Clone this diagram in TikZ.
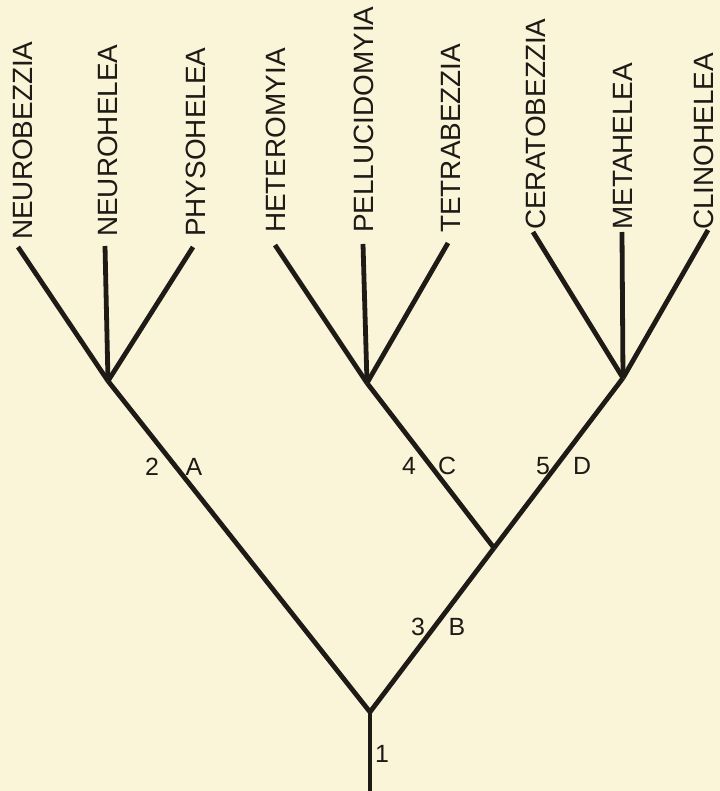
\documentclass[tikz,border=0pt]{standalone}
\usepackage{fontspec}
\setmainfont{Liberation Sans}
\definecolor{paper}{HTML}{FAF4D8}
\definecolor{ink}{HTML}{1E1A16}
\begin{document}
\begin{tikzpicture}[x=1bp,y=-1bp,
  branch/.style={draw=ink,line width=4.8bp,line cap=butt},
  taxon/.style={rotate=90,anchor=base west,inner sep=0pt,text=ink,font=\fontsize{28}{30}\selectfont},
  tag/.style={inner sep=0pt,text=ink,font=\fontsize{25}{27}\selectfont}]
\fill[paper] (0,0) rectangle (720,791);
\useasboundingbox (0,0) rectangle (720,791);
% junctions
\coordinate (root) at (370,712);
\coordinate (base) at (370,800);
\coordinate (nA) at (108,381);
\coordinate (nB) at (494,548);
\coordinate (nC) at (367,383);
\coordinate (nD) at (623,378);
% leaf tips
\coordinate (t1) at (18,247);
\coordinate (t2) at (105,246);
\coordinate (t3) at (193,247);
\coordinate (t4) at (275,245);
\coordinate (t5) at (363,244);
\coordinate (t6) at (448,243);
\coordinate (t7) at (533,232);
\coordinate (t8) at (622,232);
\coordinate (t9) at (708,230);
% taxa
\node[taxon] (l1) at (32,240) {NEUROBEZZIA};
\node[taxon] (l2) at (117,237) {NEUROHELEA};
\node[taxon] (l3) at (205,237) {PHYSOHELEA};
\node[taxon] (l4) at (285,233) {HETEROMYIA};
\node[taxon] (l5) at (373,233) {PELLUCIDOMYIA};
\node[taxon] (l6) at (460,233) {TETRABEZZIA};
\node[taxon] (l7) at (545,230) {CERATOBEZZIA};
\node[taxon] (l8) at (632,230) {METAHELEA};
\node[taxon] (l9) at (713,230) {CLINOHELEA};
% branches
\draw[branch] (base) -- (root);
\draw[branch] (root) -- (nA);
\draw[branch] (root) -- (nB);
\draw[branch] (nB) -- (nC);
\draw[branch] (nB) -- (nD);
\draw[branch] (nA) -- (t1);
\draw[branch] (nA) -- (t2);
\draw[branch] (nA) -- (t3);
\draw[branch] (nC) -- (t4);
\draw[branch] (nC) -- (t5);
\draw[branch] (nC) -- (t6);
\draw[branch] (nD) -- (t7);
\draw[branch] (nD) -- (t8);
\draw[branch] (nD) -- (t9);
% labels
\node[tag] (m1) at (382,754) {1};
\node[tag] (m2) at (152,467) {2};
\node[tag] (mA) at (194,467) {A};
\node[tag] (m3) at (418,627) {3};
\node[tag] (mB) at (457,627) {B};
\node[tag] (m4) at (409,466) {4};
\node[tag] (mC) at (447,466) {C};
\node[tag] (m5) at (543,466) {5};
\node[tag] (mD) at (582,466) {D};
\end{tikzpicture}
\end{document}
